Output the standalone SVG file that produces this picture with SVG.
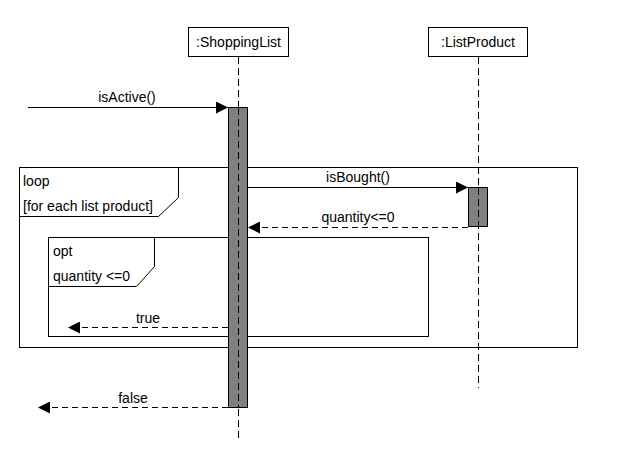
<svg xmlns="http://www.w3.org/2000/svg" width="643" height="460" viewBox="0 0 643 460">
<style>
text{font-family:"Liberation Sans",Arial,sans-serif;font-size:14px;fill:#000}
.c{text-anchor:middle}
.box{fill:#fff;stroke:#000;stroke-width:1}
.life{stroke:#000;stroke-width:1;stroke-dasharray:7,4;fill:none}
.act{fill:#808080;stroke:#000;stroke-width:1}
.frame{fill:none;stroke:#000;stroke-width:1}
.msg{stroke:#000;stroke-width:1;fill:none}
.ret{stroke:#000;stroke-width:1;fill:none;stroke-dasharray:6,4}
</style>
<defs>
<marker id="ah" markerWidth="12" markerHeight="12" refX="12" refY="6" orient="auto" markerUnits="userSpaceOnUse">
<path d="M0,0 L12,6 L0,12 Z" fill="#000"/>
</marker>
</defs>
<rect width="643" height="460" fill="#fff"/>
<g id="frames">
<g id="loop">
<rect class="frame" x="19.5" y="167.5" width="558" height="180"/>
<path class="frame" d="M19.5,216.5 H158.5 L178.5,197.5 V167.5"/>
<text x="23" y="186">loop</text>
<text x="23" y="211">[for each list product]</text>
</g>
<g id="opt">
<rect class="frame" x="48.5" y="237.5" width="380" height="99"/>
<path class="frame" d="M48.5,286.5 H136.5 L154.5,266.5 V237.5"/>
<text x="53" y="256">opt</text>
<text x="53" y="281">quantity &lt;=0</text>
</g>
</g>
<g id="ShoppingList">
<rect class="box" x="188.5" y="27.5" width="100" height="29"/>
<text class="c" x="238.5" y="47">:ShoppingList</text>
<line class="life" x1="238.5" y1="57" x2="238.5" y2="442"/>
<rect class="act" x="228.5" y="107.5" width="19" height="300"/>
<line class="life" x1="238.5" y1="108" x2="238.5" y2="407"/>
</g>
<g id="ListProduct">
<rect class="box" x="428.5" y="27.5" width="99" height="29"/>
<text class="c" x="478" y="47">:ListProduct</text>
<line class="life" x1="478.5" y1="57" x2="478.5" y2="388"/>
<rect class="act" x="468.5" y="187.5" width="19" height="39"/>
<line class="life" x1="478.5" y1="188" x2="478.5" y2="226"/>
</g>
<g id="connectors">
<line class="msg" x1="28" y1="107.5" x2="228" y2="107.5" marker-end="url(#ah)"/>
<text class="c" x="127" y="102">isActive()</text>
<line class="msg" x1="248" y1="187.5" x2="468" y2="187.5" marker-end="url(#ah)"/>
<text class="c" x="358" y="182">isBought()</text>
<line class="ret" x1="468" y1="227.5" x2="248" y2="227.5" marker-end="url(#ah)"/>
<text class="c" x="358" y="222">quantity&lt;=0</text>
<line class="ret" x1="228" y1="327.5" x2="68" y2="327.5" marker-end="url(#ah)"/>
<text class="c" x="148" y="323">true</text>
<line class="ret" x1="228" y1="407.5" x2="38" y2="407.5" marker-end="url(#ah)"/>
<text class="c" x="133" y="403">false</text>
</g>
</svg>
